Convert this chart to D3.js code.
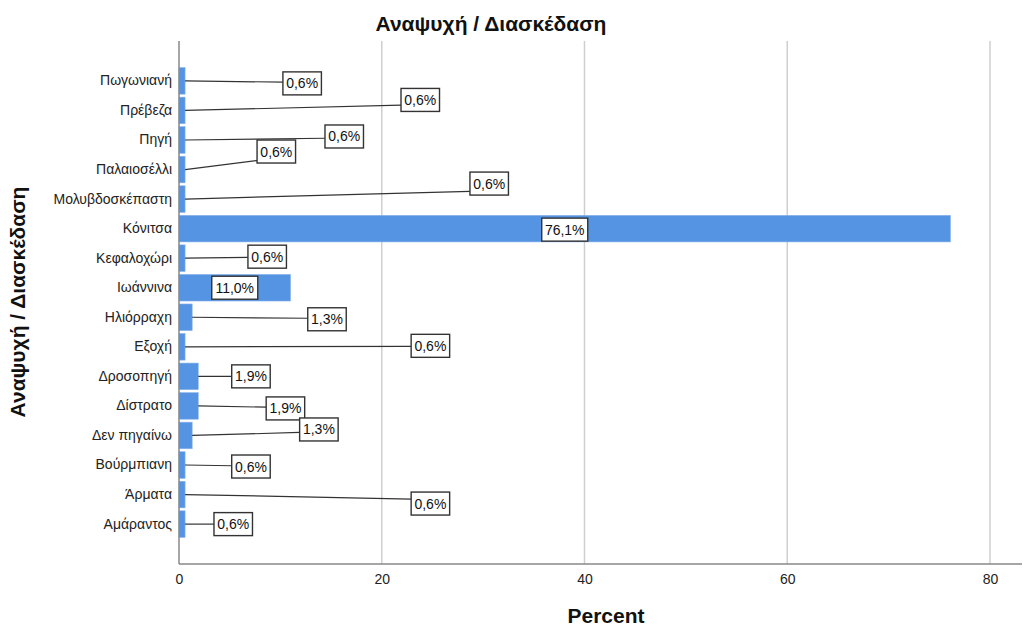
<!DOCTYPE html>
<html>
<head>
<meta charset="utf-8">
<script src="https://cdn.jsdelivr.net/npm/d3@7"></script>
<style>
  html, body { margin: 0; padding: 0; background: #fff; }
  svg { display: block; font-family: "Liberation Sans", Arial, sans-serif; }
</style>
</head>
<body>
<svg id="chart" width="1024" height="628"></svg>
<script>
// ---- data ----
const categories = ["Πωγωνιανή", "Πρέβεζα", "Πηγή", "Παλαιοσέλλι", "Μολυβδοσκέπαστη", "Κόνιτσα",
  "Κεφαλοχώρι", "Ιωάννινα", "Ηλιόρραχη", "Εξοχή", "Δροσοπηγή", "Δίστρατο", "Δεν πηγαίνω",
  "Βούρμπιανη", "Άρματα", "Αμάραντος"];
const percents = [0.6, 0.6, 0.6, 0.6, 0.6, 76.1, 0.6, 11.0, 1.3, 0.6, 1.9, 1.9, 1.3, 0.6, 0.6, 0.6];
const xTicks = [0, 20, 40, 60, 80];
const chartTitle = "Αναψυχή / Διασκέδαση";
const xTitle = "Percent";
const yTitle = "Αναψυχή / Διασκέδαση";

// label placement (layout only): box left in percent units (null = centered in bar), vertical offset px
const labelX = [10.25, 21.9, 14.4, 7.7, 28.7, null, 6.8, null, 12.7, 22.9, 5.2, 8.6, 11.9, 5.2, 22.9, 3.45];
const labelDY = [2.5, -10.5, -3.5, -18, -15.5, 1, -1.5, 0, 2, -1, 0, 2.5, -6, 1.5, 9, 0];

// ---- layout ----
const svg = d3.select("#chart");
const pLeft = 179, pRight = 1022, pTop = 41, pBottom = 564;
const x = d3.scaleLinear().domain([0, 80]).range([pLeft, 990]);
const y = d3.scaleBand().domain(categories).range([pTop, pBottom]).paddingInner(0.1).paddingOuter(0.9);

const fmt = v => d3.format(".1f")(v).replace(".", ",") + "%";

// gridlines
svg.append("g").selectAll("line").data(xTicks.filter(t => t > 0)).join("line")
  .attr("x1", d => x(d)).attr("x2", d => x(d))
  .attr("y1", pTop).attr("y2", pBottom)
  .attr("stroke", "#cfcfcf").attr("stroke-width", 1.5);

// bars
svg.append("g").selectAll("rect").data(categories).join("rect")
  .attr("x", x(0))
  .attr("y", d => y(d))
  .attr("width", (d, i) => x(percents[i]) - x(0))
  .attr("height", y.bandwidth())
  .attr("fill", "#5594e2")
  .attr("stroke", "#8ab4ec").attr("stroke-width", 0.6);

// axes
const xAxis = svg.append("g").attr("transform", `translate(0,${pBottom})`)
  .call(d3.axisBottom(x).tickValues(xTicks).tickSize(0).tickPadding(10).tickFormat(d3.format("d")));
xAxis.select(".domain").remove();
xAxis.selectAll("text").attr("font-size", 14).attr("fill", "#222").attr("font-family", "Liberation Sans, Arial, sans-serif");
svg.append("line").attr("x1", pLeft).attr("x2", pRight).attr("y1", pBottom).attr("y2", pBottom)
  .attr("stroke", "#888").attr("stroke-width", 1.5);

const yAxis = svg.append("g").attr("transform", `translate(${pLeft},0)`)
  .call(d3.axisLeft(y).tickSize(0).tickPadding(7));
yAxis.select(".domain").remove();
yAxis.selectAll("text").attr("font-size", 14).attr("fill", "#222").attr("font-family", "Liberation Sans, Arial, sans-serif");
svg.append("line").attr("x1", pLeft).attr("x2", pLeft).attr("y1", pTop).attr("y2", pBottom)
  .attr("stroke", "#888").attr("stroke-width", 1.5);

// value labels
const lg = svg.append("g");
categories.forEach((c, i) => {
  const v = percents[i];
  const txt = fmt(v);
  const bw = txt.length > 4 ? 46 : 38.5, bh = 23;
  const cy = y(c) + y.bandwidth() / 2;
  const boxCy = cy + labelDY[i];
  const bx = labelX[i] === null ? (x(0) + x(v)) / 2 - bw / 2 : x(labelX[i]);
  if (labelX[i] !== null) {
    lg.append("line")
      .attr("x1", x(v)).attr("y1", cy)
      .attr("x2", bx).attr("y2", (cy + boxCy) / 2)
      .attr("stroke", "#333").attr("stroke-width", 1.2);
  }
  lg.append("rect").attr("x", bx).attr("y", boxCy - bh / 2).attr("width", bw).attr("height", bh)
    .attr("fill", "#fff").attr("stroke", "#333").attr("stroke-width", 1.4);
  lg.append("text").attr("x", bx + bw / 2).attr("y", boxCy + 5)
    .attr("text-anchor", "middle").attr("font-size", 14).attr("fill", "#111").text(txt);
});

// titles
svg.append("text").attr("x", 491).attr("y", 31).attr("text-anchor", "middle")
  .attr("font-size", 21).attr("font-weight", "bold").attr("fill", "#111").text(chartTitle);
svg.append("text").attr("x", 606).attr("y", 623).attr("text-anchor", "middle")
  .attr("font-size", 21).attr("font-weight", "bold").attr("fill", "#111").text(xTitle);
svg.append("text").attr("transform", "translate(25,302) rotate(-90)").attr("text-anchor", "middle")
  .attr("font-size", 21).attr("font-weight", "bold").attr("fill", "#111").text(yTitle);
</script>
</body>
</html>
